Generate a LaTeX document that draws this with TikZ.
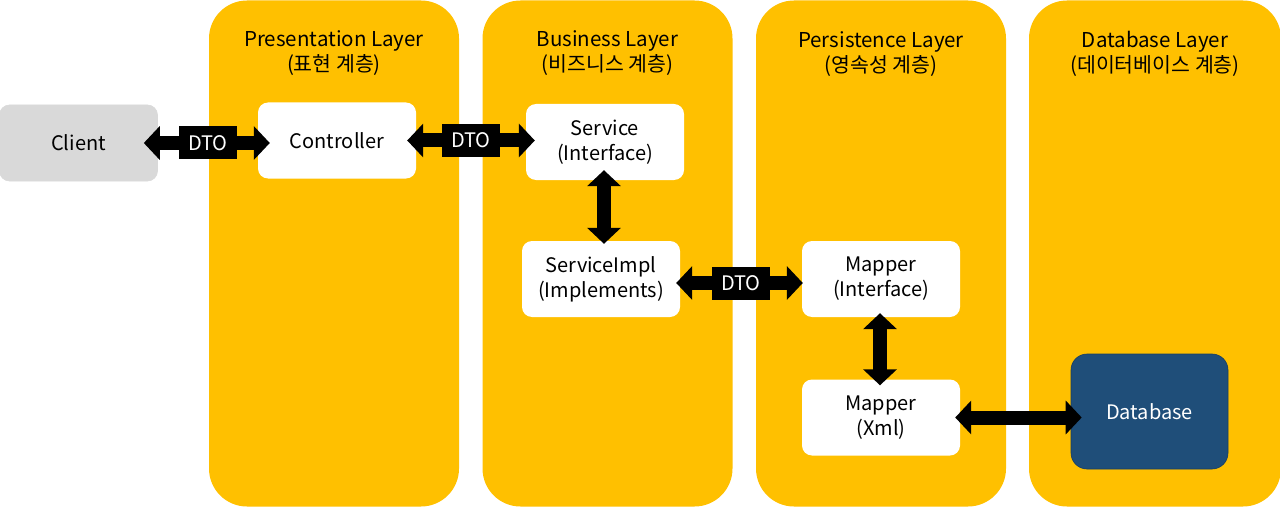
\documentclass[tikz,border=0pt]{standalone}
\usepackage{fontspec}
\setmainfont{Noto Sans CJK KR}
\usetikzlibrary{arrows.meta}
\definecolor{layeryellow}{HTML}{FFC000}
\definecolor{dbblue}{HTML}{1F4E79}
\definecolor{clientgray}{HTML}{D9D9D9}
\begin{document}
\begin{tikzpicture}[x=1pt,y=-1pt,
  layerpanel/.style={rectangle, rounded corners=38pt, fill=layeryellow, minimum width=250pt, minimum height=506pt, inner sep=0pt},
  layertitle/.style={align=center, font=\fontsize{20.5}{25}\selectfont, inner sep=0pt},
  compbox/.style={rectangle, rounded corners=10pt, fill=white, minimum width=158pt, minimum height=76pt, align=center, inner sep=0pt, font=\fontsize{20}{25}\selectfont},
  dblarrow/.style={line width=14pt, {Triangle[length=16pt,width=33pt]}-{Triangle[length=16pt,width=33pt]}},
  dtolabel/.style={midway, fill=black, text=white, minimum width=58pt, minimum height=33pt, inner sep=0pt, font=\fontsize{20}{23}\selectfont}
]
\useasboundingbox (0,0) rectangle (1280,508);
\fill[white] (0,0) rectangle (1280,508);

% layer panels
\node[layerpanel] (pres) at (334,253.5) {};
\node[layerpanel] (bus) at (607.5,253.5) {};
\node[layerpanel] (pers) at (881,253.5) {};
\node[layerpanel, minimum width=252pt] (dbl) at (1155,253.5) {};

\node[layertitle] (prest) at (334,53) {Presentation Layer\\(표현 계층)};
\node[layertitle] (bust) at (607.5,53) {Business Layer\\(비즈니스 계층)};
\node[layertitle] (perst) at (881,54) {Persistence Layer\\(영속성 계층)};
\node[layertitle] (dblt) at (1155,54) {Database Layer\\(데이터베이스 계층)};

% components
\node[compbox, fill=clientgray, draw=white!85!black, line width=0.6pt] (client) at (78.5,143) {Client};
\node[compbox] (ctrl) at (337,140.5) {Controller};
\node[compbox] (svc) at (605,142) {Service\\(Interface)};
\node[compbox] (impl) at (601,279) {ServiceImpl\\(Implements)};
\node[compbox] (mapi) at (881,279) {Mapper\\(Interface)};
\node[compbox] (mapx) at (881,417.5) {Mapper\\(Xml)};
\node[compbox, fill=dbblue, draw=dbblue!80!black, line width=0.6pt, text=white, minimum width=157pt, minimum height=115pt, rounded corners=16pt] (db) at (1149.5,411.5) {Database};

% connectors
\draw[dblarrow, shorten <=-14pt, shorten >=-12pt] (client.east) -- (client.east -| ctrl.west) node[dtolabel] (dto1) {DTO};
\draw[dblarrow, shorten <=-9pt, shorten >=-9pt] (ctrl.east) -- (ctrl.east -| svc.west) node[dtolabel] (dto2) {DTO};
\draw[dblarrow, shorten <=-4pt, shorten >=-1pt] ([yshift=-4pt]impl.east) -- ([yshift=-4pt]mapi.west) node[dtolabel] (dto3) {DTO};
\draw[dblarrow, shorten <=-10pt, shorten >=-3pt] (svc.south -| 604,0) -- (impl.north -| 604,0);
\draw[dblarrow, shorten <=-4pt, shorten >=-6pt] (mapi.south -| 880,0) -- (mapx.north -| 880,0);
\draw[dblarrow, shorten <=-5pt, shorten >=-11pt] (mapx.east) -- (mapx.east -| db.west);
\end{tikzpicture}
\end{document}
